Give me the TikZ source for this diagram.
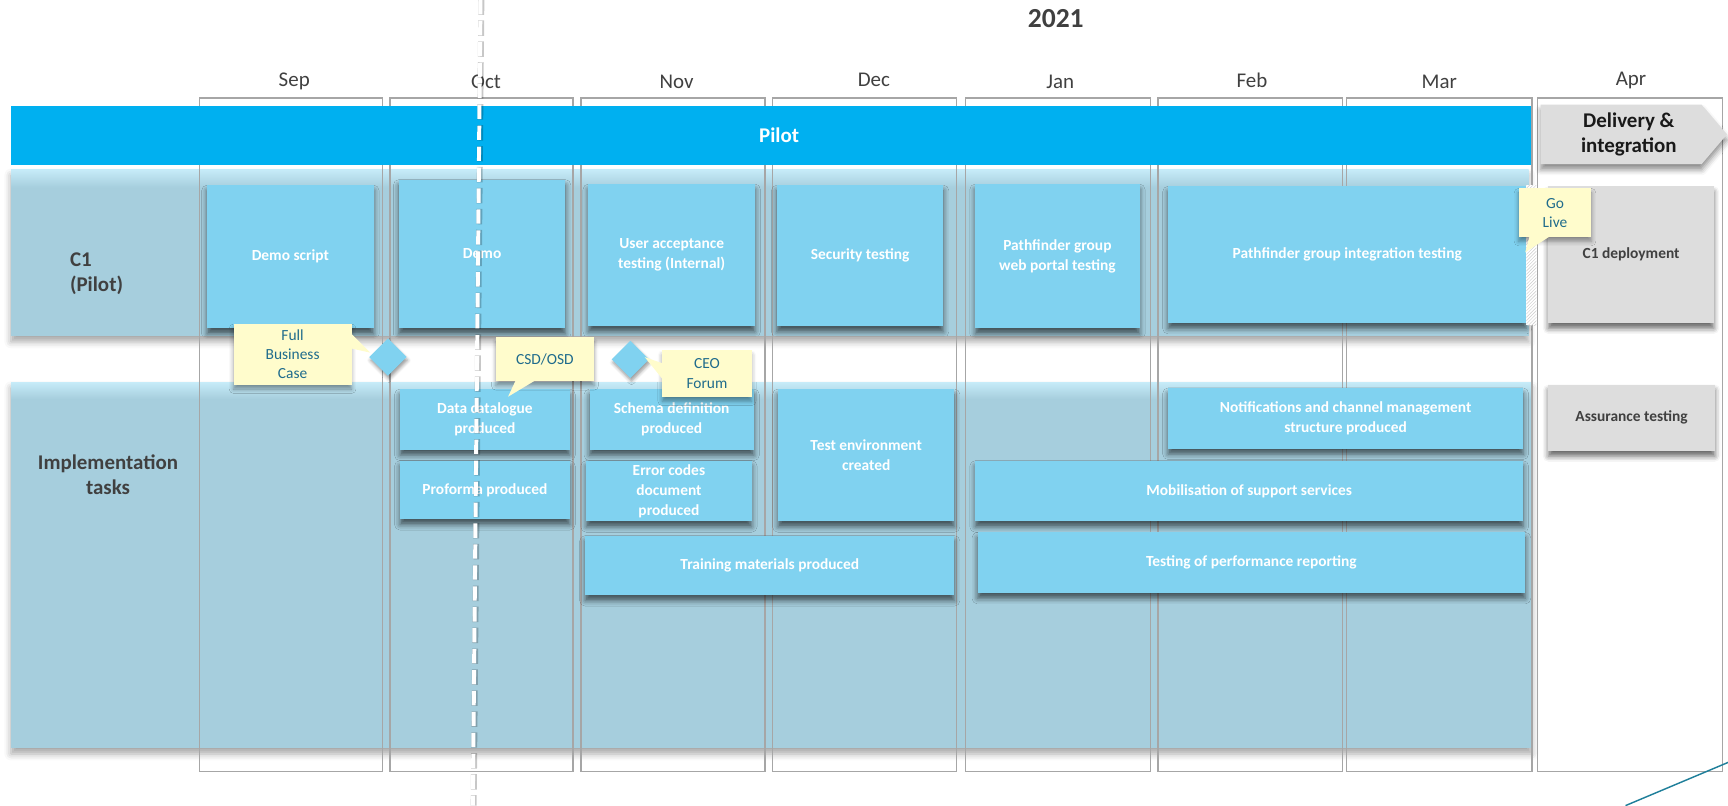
\documentclass[tikz,border=0pt]{standalone}
\usepackage{fontspec}
\setmainfont{Carlito}
\usetikzlibrary{shapes.geometric,shadows.blur,patterns,calc}
\definecolor{pilotblue}{HTML}{00B0F0}
\definecolor{taskblue}{HTML}{80D2F0}
\definecolor{band}{HTML}{A6CEDD}
\definecolor{bandtop}{HTML}{C6EBF8}
\definecolor{callyellow}{HTML}{FFFCCC}
\definecolor{calltext}{HTML}{1F6B8C}
\definecolor{greybox}{HTML}{DDDDDD}
\definecolor{darktext}{HTML}{404040}
\definecolor{colline}{HTML}{A6A6A6}
\definecolor{tealline}{HTML}{1F7F9A}
\begin{document}
\begin{tikzpicture}[x=1pt,y=-1pt,
  task/.style={fill=taskblue, text=white, font=\bfseries\fontsize{14}{18}\selectfont,
    align=center, inner sep=2pt, outer sep=0pt,
    blur shadow={shadow xshift=0pt, shadow yshift=-5pt, shadow blur radius=5pt, shadow opacity=60}},
  graytask/.style={task, fill=greybox, text=darktext},
  callout/.style={fill=callyellow, text=calltext, font=\fontsize{14}{17.5}\selectfont,
    align=center, inner sep=1pt, outer sep=0pt,
    blur shadow={shadow xshift=0pt, shadow yshift=-4pt, shadow blur radius=4pt, shadow opacity=40}},
  ms/.style={diamond, fill=taskblue, minimum width=34pt, minimum height=34pt, inner sep=0pt,
    blur shadow={shadow xshift=1pt, shadow yshift=-3pt, shadow blur radius=3pt, shadow opacity=40}},
  month/.style={text=darktext, font=\fontsize{19}{22}\selectfont},
  col/.style={draw=colline, line width=1.4pt},
  bandstyle/.style={fill=band, blur shadow={shadow xshift=0pt, shadow yshift=-5pt, shadow blur radius=6pt, shadow opacity=35}},
  rowlabel/.style={text=darktext, font=\bfseries\fontsize{19}{22.7}\selectfont},
  todayline/.style={line width=3.6pt, dash pattern=on 13pt off 6pt}
]
\useasboundingbox (0,0) rectangle (1568,731);

% year and months
\node[text=darktext, font=\bfseries\fontsize{25}{28}\selectfont] (year) at (958,17) {2021};
\node[month] (sep) at (267,74) {Sep};
\node[month] (oct) at (441,74) {Oct};
\node[month] (nov) at (614,74) {Nov};
\node[month] (dec) at (793,72.6) {Dec};
\node[month] (jan) at (962,74) {Jan};
\node[month] (feb) at (1136,72.6) {Feb};
\node[month] (mar) at (1306,74) {Mar};
\node[month] (apr) at (1480,72.6) {Apr};

% bands
\fill[bandstyle] (10,154) rectangle (1387,305);
\shade[top color=bandtop, bottom color=band] (10,154) rectangle (1387,170);
\fill[bandstyle] (10,347) rectangle (1390,679);
\shade[top color=bandtop, bottom color=band] (10,347) rectangle (1390,362);
\node[rowlabel, anchor=west, align=left] (c1lab) at (60,248) {C1\\(Pilot)};
\node[rowlabel, align=center] (implab) at (98,431) {Implementation\\tasks};

% month columns
\draw[col] (181,89) rectangle (347,700);
\draw[col] (354,89) rectangle (520,700);
\draw[col] (527,89) rectangle (694,700);
\draw[col] (701,89) rectangle (868,700);
\draw[col] (876,89) rectangle (1044,700);
\draw[col] (1051,89) rectangle (1218,700);
\draw[col] (1222,89) rectangle (1390,700);
\draw[col] (1395,89) rectangle (1563,700);

% pilot bar and delivery chevron
\fill[pilotblue] (10,96) rectangle (1389,150);
\node[text=white, font=\bfseries\fontsize{19}{22}\selectfont] (pilot) at (707,123) {Pilot};
\fill[greybox, blur shadow={shadow xshift=0pt, shadow yshift=-5pt, shadow blur radius=5pt, shadow opacity=45}]
  (1398,95) -- (1544,95) -- (1567,122) -- (1544,149) -- (1398,149) -- cycle;
\node[text=black!90, font=\bfseries\fontsize{19}{22.7}\selectfont, align=center] (deliv) at (1478,122) {Delivery \&\\integration};

% C1 (pilot) tasks
\node[task, minimum width=151pt, minimum height=130pt] (demoscript) at (263.5,233) {Demo script};
\node[task, minimum width=151pt, minimum height=135pt] (demo) at (437.5,230.5) {Demo};
\node[task, minimum width=151pt, minimum height=129pt] (uat) at (609.5,231.5) {User acceptance\\testing (Internal)};
\node[task, minimum width=151pt, minimum height=128pt] (sec) at (780.5,232) {Security testing};
\node[task, minimum width=149pt, minimum height=131pt] (pfweb) at (959.5,232.5) {Pathfinder group\\web portal testing};
\node[task, minimum width=325pt, minimum height=124pt] (pfint) at (1222.5,231) {Pathfinder group integration testing};
\node[graytask, minimum width=150pt, minimum height=124pt] (c1dep) at (1480,231) {C1 deployment};
\fill[white] (1385,168) rectangle (1394,295);
\fill[pattern=north east lines, pattern color=gray!40] (1385,168) rectangle (1394,295);

% implementation tasks
\node[task, minimum width=154pt, minimum height=55pt] (datacat) at (440,380.5) {Data catalogue\\produced};
\node[task, minimum width=154pt, minimum height=53pt] (proforma) at (440,444.5) {Proforma produced};
\node[task, minimum width=149pt, minimum height=55pt] (schema) at (609.5,380.5) {Schema definition\\produced};
\node[task, minimum width=150pt, minimum height=55pt] (errcodes) at (607,445.5) {Error codes\\document\\produced};
\node[task, minimum width=160pt, minimum height=120pt] (testenv) at (786,413) {Test environment\\created};
\node[task, minimum width=335pt, minimum height=54pt] (training) at (698.5,513) {Training materials produced};
\node[task, minimum width=322pt, minimum height=55pt] (notif) at (1221,379.5) {Notifications and channel management\\structure produced};
\node[task, minimum width=497pt, minimum height=55pt] (mobil) at (1133.5,445.5) {Mobilisation of support services};
\node[task, minimum width=497pt, minimum height=55pt] (perf) at (1135.5,510.5) {Testing of performance reporting};
\node[graytask, minimum width=151pt, minimum height=60pt] (assur) at (1480.5,379) {Assurance testing};

% milestones
\node[ms] (d1) at (352,324) {};
\node[ms] (d2) at (572,326) {};

% callouts
\coordinate (fbctip) at (336,320);
\coordinate (csdtip) at (461,360);
\coordinate (ceotip) at (585,324);
\coordinate (gotip) at (1384,229);
\node[callout, minimum width=107pt, minimum height=55pt] (fbc) at (265.5,321.5) {Full\\Business\\Case};
\fill[callyellow] ($(fbc.north east)+(-1,8)$) -- (fbctip) -- ($(fbc.north east)+(-1,22)$) -- cycle;
\node[callout, minimum width=89pt, minimum height=40pt] (csd) at (494.5,326) {CSD/OSD};
\fill[callyellow] ($(csd.south west)+(18,-1)$) -- (csdtip) -- ($(csd.south west)+(36,-1)$) -- cycle;
\node[callout, minimum width=81pt, minimum height=42pt] (ceo) at (641.5,339) {CEO\\Forum};
\fill[callyellow] ($(ceo.north west)+(1,12)$) -- (ceotip) -- ($(ceo.north west)+(1,27)$) -- cycle;
\node[callout, minimum width=66pt, minimum height=44pt] (golive) at (1411,193) {Go\\Live};
\fill[callyellow] ($(golive.south west)+(10,-1)$) -- (gotip) -- ($(golive.south west)+(29,-1)$) -- cycle;

% today line
\coordinate (dtop) at (436,0);
\coordinate (dbot) at (429,731);
\draw[todayline, black, opacity=0.22, line width=5.4pt, dash pattern=on 14pt off 5pt, dash phase=0.5pt] ($(dtop)+(0.8,0)$) -- ($(dbot)+(0.8,0)$);
\draw[todayline, white] (dtop) -- (dbot);

% corner line
\coordinate (ta) at (1475,731);
\coordinate (tb) at (1570,691);
\draw[tealline, line width=1.3pt] (ta) -- (tb);
\end{tikzpicture}
\end{document}
